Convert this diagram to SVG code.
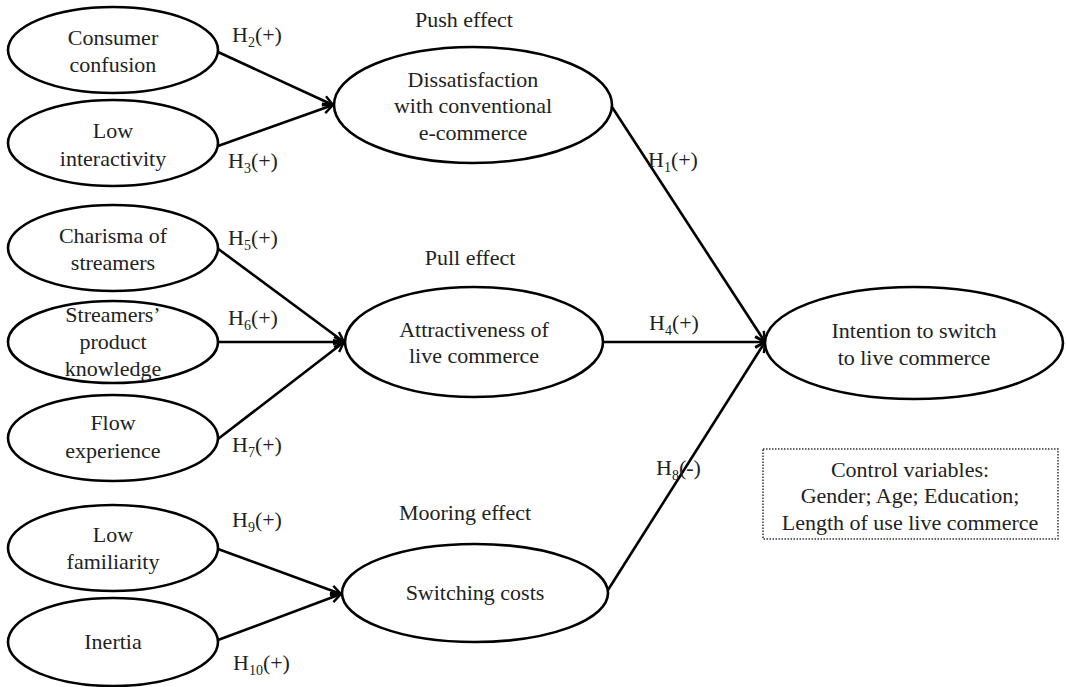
<svg xmlns="http://www.w3.org/2000/svg" width="1066" height="687" viewBox="0 0 1066 687" font-family="'Liberation Serif', 'Times New Roman', Times, 'DejaVu Serif', serif">
<defs>
<style>
.n{fill:#fff;stroke:#000;stroke-width:2.6}
text{font-family:"Liberation Serif","Times New Roman",Times,"DejaVu Serif",serif;font-size:22px;fill:#222}
.c{text-anchor:middle}
.sub{font-size:14px}
.e{stroke:#000;stroke-width:2.6;fill:none;marker-end:url(#ah)}
</style>
<marker id="ah" markerWidth="14" markerHeight="14" refX="11" refY="6" orient="auto" markerUnits="userSpaceOnUse">
<path d="M1,1 L11,6 L1,11" fill="none" stroke="#000" stroke-width="2.4"/>
</marker>
</defs>
<rect width="1066" height="687" fill="#fff"/>
<g id="connectors">
<line class="e" x1="218" y1="52" x2="333" y2="105"/>
<line class="e" x1="218" y1="146" x2="333" y2="105"/>
<line class="e" x1="217" y1="248" x2="344" y2="342"/>
<line class="e" x1="216" y1="342" x2="344" y2="342"/>
<line class="e" x1="218" y1="439" x2="344" y2="342"/>
<line class="e" x1="218" y1="549" x2="341" y2="594"/>
<line class="e" x1="218" y1="640" x2="341" y2="594"/>
<line class="e" x1="612" y1="107" x2="765" y2="342"/>
<line class="e" x1="603" y1="342" x2="765" y2="342"/>
<line class="e" x1="608" y1="590" x2="765" y2="342"/>
</g>
<g id="labels">
<text x="464" y="27" class="c">Push effect</text>
<text x="470" y="265" class="c">Pull effect</text>
<text x="465" y="520" class="c">Mooring effect</text>
<text x="232" y="42">H<tspan class="sub" dy="5">2</tspan><tspan dy="-5">(+)</tspan></text>
<text x="228" y="168">H<tspan class="sub" dy="5">3</tspan><tspan dy="-5">(+)</tspan></text>
<text x="228" y="245">H<tspan class="sub" dy="5">5</tspan><tspan dy="-5">(+)</tspan></text>
<text x="228" y="325">H<tspan class="sub" dy="5">6</tspan><tspan dy="-5">(+)</tspan></text>
<text x="232" y="452">H<tspan class="sub" dy="5">7</tspan><tspan dy="-5">(+)</tspan></text>
<text x="232" y="527">H<tspan class="sub" dy="5">9</tspan><tspan dy="-5">(+)</tspan></text>
<text x="233" y="670">H<tspan class="sub" dy="5">10</tspan><tspan dy="-5">(+)</tspan></text>
<text x="648" y="167">H<tspan class="sub" dy="5">1</tspan><tspan dy="-5">(+)</tspan></text>
<text x="649" y="330">H<tspan class="sub" dy="5">4</tspan><tspan dy="-5">(+)</tspan></text>
<text x="656" y="475">H<tspan class="sub" dy="5">8</tspan><tspan dy="-5">(-)</tspan></text>
</g>
<g id="consumer-confusion">
<ellipse class="n" cx="113" cy="50" rx="105" ry="43"/>
<text x="113" y="45" class="c">Consumer</text>
<text x="113" y="72" class="c">confusion</text>
</g>
<g id="low-interactivity">
<ellipse class="n" cx="113" cy="143" rx="105" ry="43"/>
<text x="113" y="138" class="c">Low</text>
<text x="113" y="166" class="c">interactivity</text>
</g>
<g id="charisma">
<ellipse class="n" cx="113" cy="248" rx="105" ry="43"/>
<text x="113" y="243" class="c">Charisma of</text>
<text x="113" y="270" class="c">streamers</text>
</g>
<g id="product-knowledge">
<ellipse class="n" cx="113" cy="342" rx="105" ry="41"/>
<text x="113" y="322" class="c">Streamers’</text>
<text x="113" y="349" class="c">product</text>
<text x="113" y="376" class="c">knowledge</text>
</g>
<g id="flow-experience">
<ellipse class="n" cx="113" cy="438" rx="105" ry="43"/>
<text x="113" y="430" class="c">Flow</text>
<text x="113" y="458" class="c">experience</text>
</g>
<g id="low-familiarity">
<ellipse class="n" cx="113" cy="548" rx="105" ry="43"/>
<text x="113" y="542" class="c">Low</text>
<text x="113" y="569" class="c">familiarity</text>
</g>
<g id="inertia">
<ellipse class="n" cx="113" cy="642" rx="105" ry="44"/>
<text x="113" y="649" class="c">Inertia</text>
</g>
<g id="dissatisfaction">
<ellipse class="n" cx="473" cy="105" rx="139" ry="58"/>
<text x="473" y="87" class="c">Dissatisfaction</text>
<text x="473" y="113" class="c">with conventional</text>
<text x="473" y="140" class="c">e-commerce</text>
</g>
<g id="attractiveness">
<ellipse class="n" cx="474" cy="342" rx="129" ry="55"/>
<text x="474" y="337" class="c">Attractiveness of</text>
<text x="474" y="363" class="c">live commerce</text>
</g>
<g id="switching-costs">
<ellipse class="n" cx="475" cy="593" rx="133" ry="49"/>
<text x="475" y="600" class="c">Switching costs</text>
</g>
<g id="intention">
<ellipse class="n" cx="914" cy="343" rx="149" ry="56"/>
<text x="914" y="338" class="c">Intention to switch</text>
<text x="914" y="365" class="c">to live commerce</text>
</g>
<g id="control-variables">
<rect x="763" y="449" width="295" height="90" fill="#fff" stroke="#333" stroke-width="1.5" stroke-dasharray="1.5,1.5"/>
<text x="910" y="477" class="c">Control variables:</text>
<text x="910" y="503" class="c">Gender; Age; Education;</text>
<text x="910" y="530" class="c">Length of use live commerce</text>
</g>
</svg>
